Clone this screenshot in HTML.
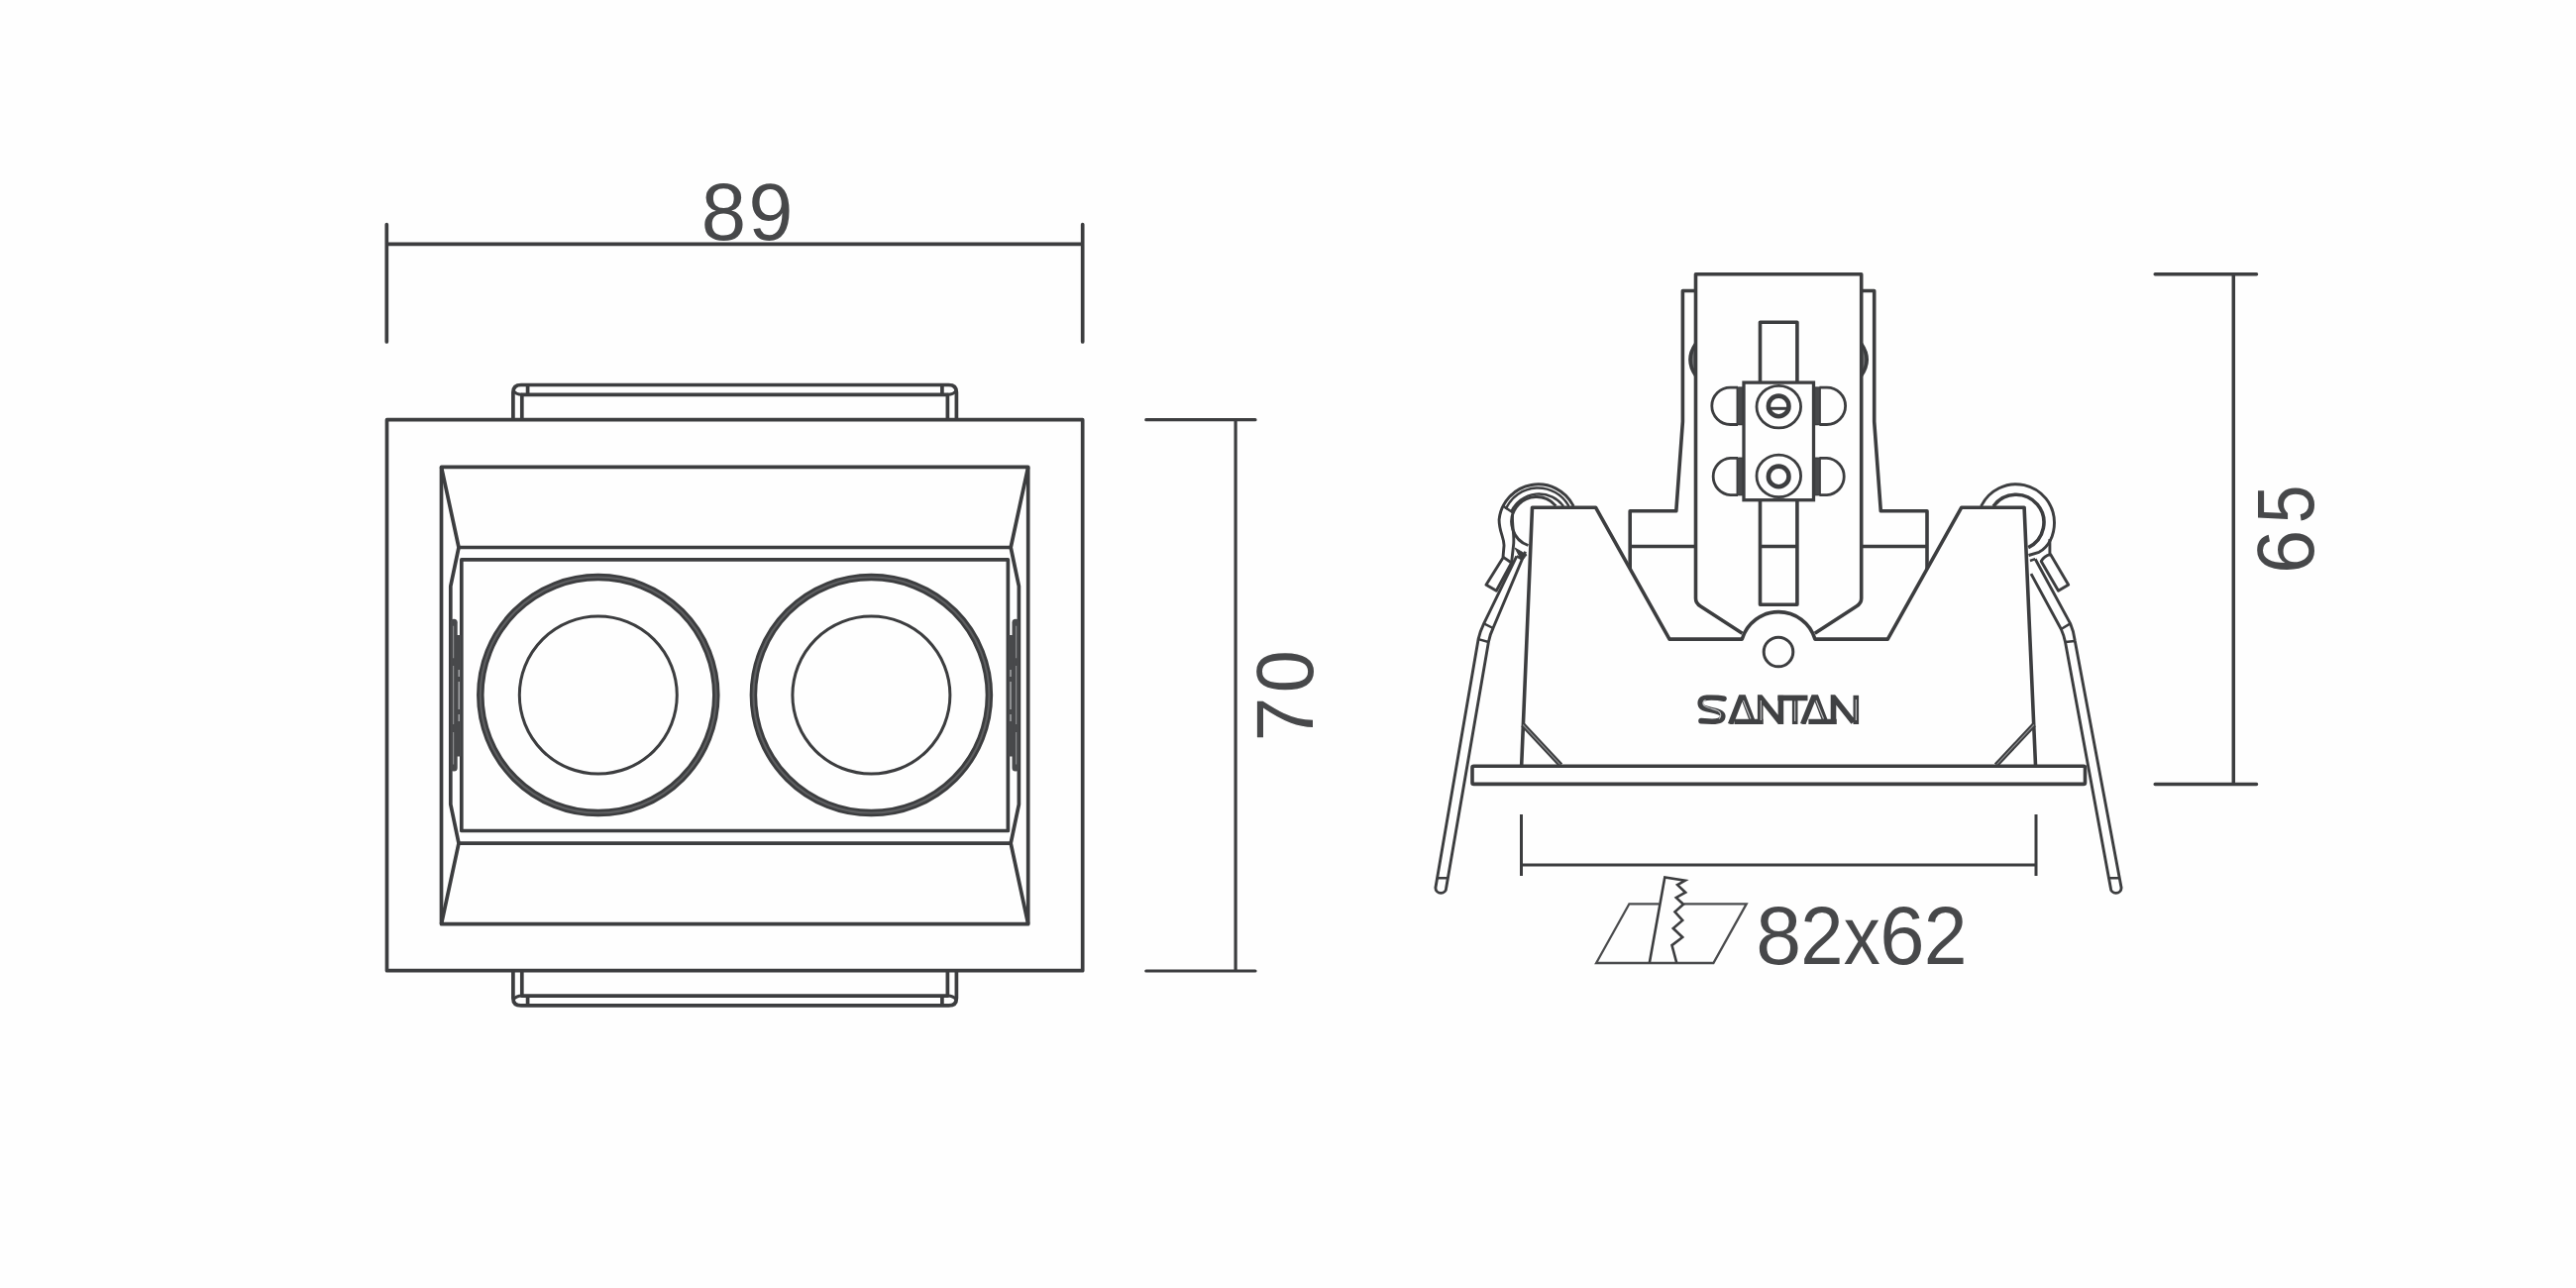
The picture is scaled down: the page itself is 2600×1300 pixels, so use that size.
<!DOCTYPE html>
<html>
<head>
<meta charset="utf-8">
<style>
html,body{margin:0;padding:0;background:#fefefe;}
body{width:2600px;height:1300px;overflow:hidden;}
svg{display:block;}
text{font-family:"Liberation Sans",sans-serif;}
</style>
</head>
<body>
<svg width="2600" height="1300" viewBox="0 0 2600 1300">
<rect width="2600" height="1300" fill="#fefefe"/>
<g fill="none" stroke="#3c3d3f" stroke-width="3.7" stroke-linejoin="round" stroke-linecap="butt">

<!-- ===== LEFT DRAWING ===== -->
<!-- dim 89 -->
<path d="M390.3 246.3H1092.7M390.3 226.5V345M1092.7 226.5V345" stroke-linecap="round"/>
<!-- outer rect -->
<rect x="390.5" y="423.7" width="702.2" height="556"/>
<!-- clips top & bottom -->
<g id="clip">
<path d="M517.9 423.7V396Q517.9 388.5 526 388.5H957.5Q965.4 388.5 965.4 396V423.7"/>
<path d="M526.8 423.7V398.3H956.4V423.7M532.6 388.5V398.3M950.9 388.5V398.3"/>
<path d="M518 394Q520.5 398.3 527 398.3M965.3 394Q962.8 398.3 956.3 398.3" stroke-width="3"/>
</g>
<use href="#clip" transform="matrix(1 0 0 -1 0 1403.4)"/>
<!-- inner frame -->
<rect x="445.5" y="471.3" width="592.2" height="461.4"/>
<g id="halfL">
<path d="M445.5 471.3L463 552.5L454.8 591.6V811.8L463 851.1L445.5 932.7"/>
</g>
<use href="#halfL" transform="matrix(-1 0 0 1 1483.2 0)"/>
<path d="M463 552.5H1020.2M463 851.1H1020.2"/>
<rect x="465.8" y="564.9" width="551.6" height="273.6"/>
<!-- LEDs -->
<circle cx="603.8" cy="701.6" r="119" stroke-width="7.5"/>
<circle cx="603.8" cy="701.6" r="119" stroke-width="2" stroke="#5e5f61"/>
<circle cx="603.8" cy="701.6" r="79.5" stroke-width="3"/>
<circle cx="879.4" cy="701.6" r="119" stroke-width="7.5"/>
<circle cx="879.4" cy="701.6" r="119" stroke-width="2" stroke="#5e5f61"/>
<circle cx="879.4" cy="701.6" r="79.5" stroke-width="3"/>
</g>
<!-- hinges -->
<g id="hinge">
<rect x="454.5" y="624.8" width="7.2" height="153.7" rx="3.5" fill="#48494b"/>
<rect x="461" y="641" width="4.6" height="122.5" fill="#48494b"/>
<path d="M457.6 631.7V664.3M457.6 672V731M457.6 739V771.5" stroke="#8a8b8d" stroke-width="1.2"/>
<path d="M463.2 676V683M463.2 688V716M463.2 721V728" stroke="#bbbcbe" stroke-width="1.2"/>
</g>
<use href="#hinge" transform="matrix(-1 0 0 1 1483.2 0)"/>


<!-- ===== RIGHT DRAWING ===== -->
<g fill="none" stroke="#3c3d3f" stroke-width="3.6" stroke-linejoin="round">
<!-- dims -->
<path d="M2175.2 276.7H2277.5M2175.2 791.4H2277.5M2254.3 276.7V791.4" stroke-linecap="round" stroke-width="3.5"/>
<path d="M1535.5 822V884M2055 822V884M1535.5 873.1H2055" stroke-width="3"/>
<!-- side plates / steps -->
<path d="M1711.5 293.5H1698.4V425.5L1691.8 515.8H1645.2V574"/>
<path d="M1878.7 293.5H1891.7V425.5L1898.3 515.8H1945V574"/>
<path d="M1645.2 551.5H1711.5M1776.5 551.5H1813.9M1878.7 551.5H1945"/>
<!-- bulges -->
<path d="M1711.5 347Q1700.5 363 1711.5 379M1878.7 347Q1889.7 363 1878.7 379" fill="#6e6f71"/>

<!-- driver box -->
<path d="M1758.5 639.2L1716.5 612Q1711.5 609 1711.5 604V276.8H1878.7V604Q1878.7 609 1873.7 612L1831.7 639.2"/>
<!-- central bar -->
<path d="M1776.5 386V325.2H1813.9V386M1776.5 504.7V610.2H1813.9V504.7"/>
<!-- main body -->
<path d="M1535.7 772.3L1546.5 512.2H1610.5L1685 645.1H1758.3A38.4 38.4 0 0 1 1831.9 645.1H1905.3L1979.8 512.2H2043.1L2054.5 772.3"/>
<circle cx="1795" cy="658" r="14.8" stroke-width="3"/>
<!-- corner triangles -->
<path d="M1537.1 731.5L1575.3 772.3M2053 731.5L2014.7 772.3" stroke-width="5"/>
<path d="M1537.1 731.5L1575.3 772.3M2053 731.5L2014.7 772.3" stroke-width="1.2" stroke="#8a8b8d"/>
<!-- flange -->
<rect x="1486" y="773.2" width="618.5" height="18.2" rx="1.5"/>
</g>

<!-- springs -->
<g fill="none" stroke="#3c3d3f" stroke-width="2.9" stroke-linejoin="round">
<!-- left coil -->
<path d="M1588.2 511A39.7 39.7 0 0 0 1513.1 524.4C1513 537 1518.5 543 1518 551L1517 562.4"/>
<path d="M1583.5 511A35.4 35.4 0 0 0 1519.8 514M1578 511A30.7 30.7 0 0 0 1525.5 516" stroke-width="2.4"/>
<path d="M1517.5 511L1527 517.5" stroke-width="2.4"/>
<path d="M1570.3 510.7A25.2 25.2 0 1 0 1542.5 550.5"/>
<path d="M1526.5 520C1526 532 1529 541 1527.5 551L1525.6 568"/>
<path d="M1517.3 562.4L1500 590.3L1510.3 596.3L1525.6 568Z"/>
<path d="M1529 553L1541 560L1536 566Z" fill="#3c3d3f" stroke-width="1"/>
<!-- left leg -->
<path d="M1530.8 561.4L1497.7 629.4Q1494 637 1492.1 645.2L1448.9 896A5.4 5.4 0 0 0 1459.7 896L1502.4 648Q1504 640 1507 634L1539.6 556.8"/>
<path d="M1497.7 629.4L1507 634M1492.1 645.2L1502.4 648M1450.6 886.3L1461.4 886.3M1530.8 561.4L1535.9 564.2" stroke-width="2.4"/>
<!-- right coil -->
<path d="M1999.6 511A38.8 38.8 0 0 1 2073.5 527.4C2073.5 540 2068 552 2058 557.3L2047.5 560.5"/>
<path d="M2012 511A28.1 28.1 0 1 1 2047.2 552.6" stroke-width="3.6"/>
<path d="M2068.9 544V559.6"/>
<path d="M2069.6 559.6L2087.7 590.3L2077.5 596.3L2060.2 566.5Q2063 561 2069.6 559.6Z"/>
<!-- right leg -->
<path d="M2054.2 564.2L2089.6 629.4Q2093 637 2094.3 647L2141.1 896A5.4 5.4 0 0 1 2130.3 896L2084.5 648Q2083 641 2080.3 635L2050 579.1"/>
<path d="M2089.6 629.4L2080.3 635M2094.3 647L2084.5 648M2139.4 886.3L2128.6 886.3M2049 566L2054.2 564.2" stroke-width="2.4"/>
</g>

<!-- terminal block -->
<g fill="none" stroke="#3c3d3f" stroke-width="2.8">
<path d="M1754 391.1H1746.5A18.7 18.7 0 0 0 1746.5 428.5H1754M1754 462.3H1746.5A18.7 18.7 0 0 0 1746.5 499.6H1754"/>
<path d="M1836.4 391.1H1843.9A18.7 18.7 0 0 1 1843.9 428.5H1836.4M1836.4 462.3H1843.9A18.7 18.7 0 0 1 1843.9 499.6H1836.4"/>
<rect x="1753.3" y="391.1" width="6.5" height="37.4" fill="#48494b" stroke-width="1.5"/>
<rect x="1753.3" y="462.3" width="6.5" height="37.3" fill="#48494b" stroke-width="1.5"/>
<rect x="1830.6" y="391.1" width="6.5" height="37.4" fill="#48494b" stroke-width="1.5"/>
<rect x="1830.6" y="462.3" width="6.5" height="37.3" fill="#48494b" stroke-width="1.5"/>
<rect x="1760" y="386.1" width="70.5" height="118.6" fill="#fefefe" stroke-width="3.3"/>
<ellipse cx="1795.3" cy="410.6" rx="22.3" ry="21.3" stroke-width="2.8"/>
<ellipse cx="1795.3" cy="480.4" rx="22.3" ry="21.3" stroke-width="2.8"/>
<circle cx="1795.2" cy="409.9" r="10.3" stroke-width="4.6"/>
<circle cx="1795.2" cy="480.9" r="10.3" stroke-width="4.6"/>
<path d="M1786.8 412.3H1803.6" stroke-width="3"/>
</g>


<!-- SANTAN logo -->
<clipPath id="lc"><rect x="1712" y="701.3" width="166" height="29.8"/></clipPath>
<g clip-path="url(#lc)">
<g fill="none" stroke="#404143" stroke-width="5.6" stroke-linejoin="miter" stroke-linecap="butt">
<path d="M1740 705.2C1735 704.2 1728 703.8 1723 704.1C1716.5 704.6 1715.8 708 1716.4 711C1717.2 714.4 1721 715.3 1727 716.5C1734 718 1739 719.5 1738.8 723C1738.6 727 1734 728.2 1728 728.2L1717 727.6" stroke-width="5.6" stroke-linecap="round"/>
<path d="M1746.6 731L1757.3 703.6H1759.6L1769.2 729"/>
<path d="M1750.5 728.6H1779.5"/>
<path d="M1776.7 731V703.6L1796.8 729.1M1797.4 731V701.8"/>
<path d="M1794.4 704.4H1824.5M1811.7 703.8V731"/>
<path d="M1819.6 731L1830.6 703.6H1832.9L1842.6 729"/>
<path d="M1825.4 728.6H1853.7"/>
<path d="M1850.5 731V703.6L1870.6 729.1M1873.3 731V701.8"/>
</g>
<g fill="none" stroke="#c4c5c7" stroke-width="1.1">
<path d="M1811.7 707.5V728M1873.3 706V727M1777.3 707V727M1759.5 707L1767 725.5M1833 707L1840.5 725.5M1721.5 706.6C1718 707.6 1718.2 711 1720.6 712.6C1724 714.6 1730 715.8 1734 717.4C1737.6 719.2 1737.4 723.5 1735 725.6"/>
</g>
</g>
<!-- saw icon -->
<g fill="none" stroke-linejoin="miter">
<path d="M1674.5 912.3H1644.4L1611.1 972H1729.4L1762.7 912.3H1699.5" stroke="#4a4b4d" stroke-width="2.3"/>
<path d="M1664.9 971.6L1680.3 885.4L1700.8 888.8L1693.1 893.1L1701.2 900.7L1691.8 905.9L1699.1 912.7L1690.5 920.4L1698.2 928.9L1688.8 937L1698.2 946L1687.5 954.1L1692.2 971.6" stroke="#3c3d3f" stroke-width="2.6"/>
</g>

<!-- ===== TEXT ===== -->
<g fill="#47484a">
<text font-size="81.7" text-anchor="middle" transform="matrix(0.9982 0 0 1 730.35 242.0)">8</text>
<text font-size="81.7" text-anchor="middle" transform="matrix(0.9874 0 0 1 778.05 242.0)">9</text>
<text font-size="81.4" text-anchor="middle" transform="translate(1324.6 726.00) rotate(-90) scale(0.9828 1)">7</text>
<text font-size="81.4" text-anchor="middle" transform="translate(1324.6 677.75) rotate(-90) scale(0.9488 1)">0</text>
<text font-size="81.8" text-anchor="middle" transform="translate(2335.0 556.90) rotate(-90) scale(0.9726 1)">6</text>
<text font-size="81.8" text-anchor="middle" transform="translate(2335.0 508.80) rotate(-90) scale(0.8504 1)">5</text>
<text font-size="83" text-anchor="middle" transform="matrix(0.9933 0 0 1 1795.05 973.0)">8</text>
<text font-size="83" text-anchor="middle" transform="matrix(0.9371 0 0 1 1838.80 973.0)">2</text>
<text font-size="83" text-anchor="middle" transform="matrix(0.8921 0 0 1 1879.20 973.0)">x</text>
<text font-size="83" text-anchor="middle" transform="matrix(0.9799 0 0 1 1919.80 973.0)">6</text>
<text font-size="83" text-anchor="middle" transform="matrix(0.9478 0 0 1 1963.55 973.0)">2</text>
</g>

<!-- dim 70 -->
<g fill="none" stroke="#3c3d3f" stroke-width="3.2" stroke-linecap="round">
<path d="M1156.8 423.7H1267M1156.8 980H1267M1247.1 423.7V980"/>
</g>
</svg>
</body>
</html>
